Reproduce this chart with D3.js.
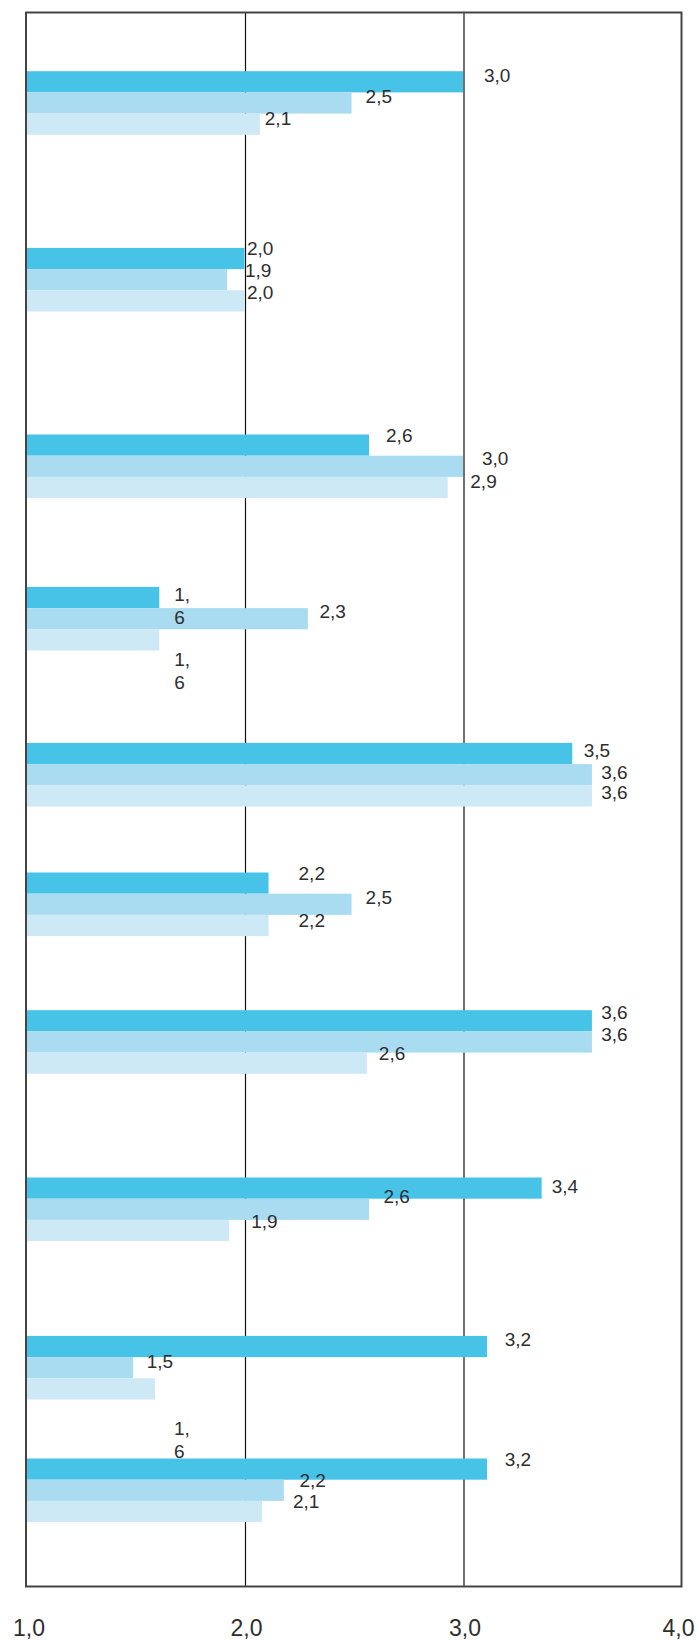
<!DOCTYPE html>
<html>
<head>
<meta charset="utf-8">
<script src="https://cdn.jsdelivr.net/npm/d3@7"></script>
<style>
  html, body { margin: 0; padding: 0; background: #ffffff; }
  svg { display: block; }
  .lbl { font-family: "Liberation Sans", Arial, sans-serif; fill: #2e2e2e; }
</style>
</head>
<body>
<svg id="chart" width="698" height="1643"></svg>
<script>
// ---------------- DATA ----------------
const categories = ["1", "2", "3", "4", "5", "6", "7", "8", "9", "10"];
const seriesNames = ["Serie 1", "Serie 2", "Serie 3"];
// bar lengths as drawn
const seriesDark  = [3.00, 2.00, 2.57, 1.61, 3.50, 2.11, 3.59, 3.36, 3.11, 3.11];
const seriesMid   = [2.49, 1.92, 3.00, 2.29, 3.59, 2.49, 3.59, 2.57, 1.49, 2.18];
const seriesLight = [2.07, 2.00, 2.93, 1.61, 3.59, 2.11, 2.56, 1.93, 1.59, 2.08];
// values as printed next to the bars
const printedDark  = [3.0, 2.0, 2.6, 1.6, 3.5, 2.2, 3.6, 3.4, 3.2, 3.2];
const printedMid   = [2.5, 1.9, 3.0, 2.3, 3.6, 2.5, 3.6, 2.6, 1.5, 2.2];
const printedLight = [2.1, 2.0, 2.9, 1.6, 3.6, 2.2, 2.6, 1.9, 1.6, 2.1];
const xTicks = [1, 2, 3, 4];

// ---------------- LAYOUT ----------------
const W = 698, H = 1643;
const plot = { left: 26, right: 681.5, top: 12.5, bottom: 1586.5 };
const colors = ["#47c3e8", "#a9dcf0", "#cde9f6"];
// vertical rhythm of the groups (relative units along the plot height)
const leadGap = 58.7;
const rowSteps = [176.7, 186.6, 152.4, 156.0, 129.6, 137.7, 167.3, 158.4, 122.6];
const barUnit = 21.2;
const totalUnits = 1574;
// label nudges (px) relative to bar end / bar centre
const labelDx = [
  [21, 2.4, 17, 15, 11.5, 30, 9.3, 10, 17.7, 17.7],
  [14, 18, 19, 11.6, 9.3, 14, 9.3, 14.4, 13.6, 15.7],
  [5, 2.4, 22.6, 15, 9.3, 30, 12, 22, 19, 31]
];
const labelDy = [
  [-6.5, -10, -9.6, -4, -3, -9.8, -8.3, -2, -6.7, -9.6],
  [-6.6, -9.5, -7.5, -7.6, -2.5, -7.3, -8, -12.5, -6, -10],
  [-5.6, -8.5, -6, 19, -3.3, -4.7, -9.3, -9, 39, -10.4]
];
const wrapped = [[3], [], [3, 8]]; // labels broken over two lines

// ---------------- SCALES ----------------
const x = d3.scaleLinear().domain([1, 4]).range([plot.left, plot.right]);
const rowStart = [leadGap];
rowSteps.forEach((s, i) => rowStart.push(rowStart[i] + s));
const yUnits = d3.scaleLinear().domain([0, totalUnits]).range([plot.top, plot.bottom]);
const yGroup = d3.scaleOrdinal().domain(categories).range(rowStart.map(u => yUnits(u)));
const ySub = d3.scaleBand().domain(seriesNames).range([0, yUnits(barUnit * 3) - yUnits(0)]).padding(0);

const locale = d3.formatLocale({ decimal: ",", thousands: ".", grouping: [3], currency: ["", ""] });
const fmt = locale.format(".1f");

const svg = d3.select("#chart");

const series = [seriesDark, seriesMid, seriesLight];
const printed = [printedDark, printedMid, printedLight];
const rows = [];
series.forEach((arr, s) => arr.forEach((v, i) => rows.push({ s, i, cat: categories[i], v, p: printed[s][i] })));

// gridlines (behind bars)
svg.append("g").selectAll("line").data(xTicks.slice(1, -1)).join("line")
  .attr("x1", d => x(d) + 1).attr("x2", d => x(d) + 1)
  .attr("y1", plot.top).attr("y2", plot.bottom)
  .attr("stroke", "#111").attr("stroke-width", 1.2);

// bars
svg.append("g").selectAll("rect").data(rows).join("rect")
  .attr("x", x(1))
  .attr("y", d => yGroup(d.cat) + ySub(seriesNames[d.s]))
  .attr("width", d => x(d.v) - x(1))
  .attr("height", ySub.bandwidth())
  .attr("fill", d => colors[d.s]);

// frame
svg.append("rect")
  .attr("x", plot.left).attr("y", plot.top)
  .attr("width", plot.right - plot.left).attr("height", plot.bottom - plot.top)
  .attr("fill", "none").attr("stroke", "#444").attr("stroke-width", 2);

// value labels
const lab = svg.append("g").selectAll("text").data(rows).join("text")
  .attr("class", "lbl")
  .attr("font-size", 19)
  .attr("dominant-baseline", "central")
  .attr("x", d => x(d.v) + labelDx[d.s][d.i])
  .attr("y", d => yGroup(d.cat) + ySub(seriesNames[d.s]) + ySub.bandwidth() / 2 + labelDy[d.s][d.i]);
lab.each(function (d) {
  const t = d3.select(this);
  const str = fmt(d.p);
  if (wrapped[d.s].includes(d.i)) {
    const k = str.indexOf(",") + 1;
    t.append("tspan").text(str.slice(0, k));
    t.append("tspan").attr("x", t.attr("x")).attr("dy", 23).text(str.slice(k));
  } else {
    t.text(str);
  }
});

// x axis tick labels
svg.append("g").selectAll("text").data(xTicks).join("text")
  .attr("class", "lbl")
  .attr("font-size", 23)
  .attr("text-anchor", "middle")
  .attr("x", d => x(d) + (d === 1 ? 3 : d === 4 ? -3 : 2))
  .attr("y", 1636)
  .text(d => fmt(d));
</script>
</body>
</html>
